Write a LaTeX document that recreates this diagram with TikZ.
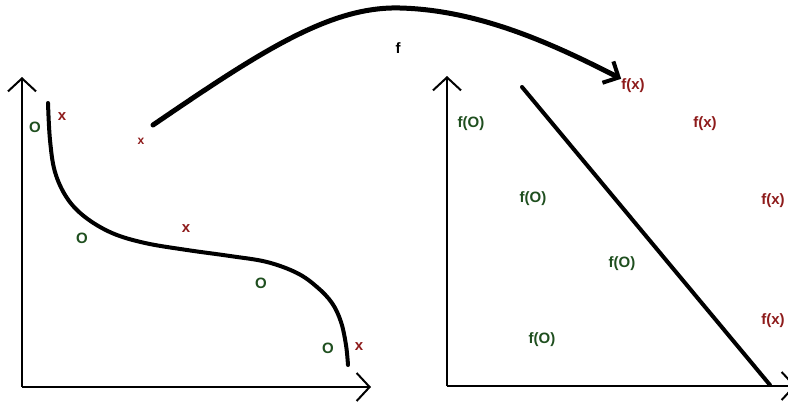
\documentclass[tikz,border=0pt]{standalone}
\usepackage{fontspec}
\setmainfont{Liberation Sans}
\usetikzlibrary{arrows.meta}
\definecolor{dred}{HTML}{8E1B1B}
\definecolor{dgreen}{HTML}{1F4F1F}
\tikzset{
  axis/.style={line width=2.6pt, -{Straight Barb[length=13pt,width=28pt,line width=2pt]}},
  thick curve/.style={line width=4pt, line cap=round},
  gl/.style={text=dgreen, font=\fontsize{15}{15}\selectfont\bfseries, inner sep=0pt},
  rl/.style={text=dred, font=\fontsize{15}{15}\selectfont\bfseries, inner sep=0pt},
  fl/.style={text=black, font=\fontsize{15}{15}\selectfont\bfseries, inner sep=0pt}
}
\begin{document}
\begin{tikzpicture}[x=1pt,y=-1pt]
\useasboundingbox[fill=white] (0,0) rectangle (788,405);
% left axes
\coordinate (lo) at (22,387);
\coordinate (ly) at (22,77);
\coordinate (lx) at (371,387);
\draw[axis] (lo) -- (ly);
\draw[axis] (lo) -- (lx);
% curve
\draw[thick curve] plot[smooth, tension=0.6] coordinates {(48,103) (50,140) (55,172) (67,198) (85,217) (112,233) (145,243) (187,250) (230,256) (267,262) (297,273) (317,287) (332,303) (341,322) (346,345) (348,365)};
% left labels
\node[gl] (o1) at (35,127) {O};
\node[rl] (x1) at (62,117) {x};
\node[rl] (x0) at (141,141) {\fontsize{12}{12}\selectfont x};
\node[gl] (o2) at (82,238) {O};
\node[rl] (x2) at (186,229) {x};
\node[gl] (o3) at (261,283) {O};
\node[gl] (o4) at (328,348) {O};
\node[rl] (x3) at (359,347) {x};
% right axes
\coordinate (ro) at (447,386);
\coordinate (ry) at (447,76);
\coordinate (rx) at (796,386);
\draw[axis] (ro) -- (ry);
\draw[axis] (ro) -- (rx);
% diagonal line
\coordinate (d1) at (522,87);
\coordinate (d2) at (770,385);
\draw[thick curve] (d1) -- (d2);
% right labels
\node[gl] (f1) at (471,124) {f(O)};
\node[gl] (f2) at (533,199) {f(O)};
\node[gl] (f3) at (622,264) {f(O)};
\node[gl] (f4) at (542,340) {f(O)};
\node[rl] (g1) at (633,86) {f(x)};
\node[rl] (g2) at (705,124) {f(x)};
\node[rl] (g3) at (773,201) {f(x)};
\node[rl] (g4) at (773,321) {f(x)};
% big mapping arrow
\coordinate (as) at (153,125);
\node[fl] (fn) at (398,48) {f};
\draw[line width=5pt, line cap=round, -{Straight Barb[length=12pt,width=24pt,line width=4pt]}]
  (as) .. controls (260,52) and (330,6) .. (400,8)
  .. controls (480,10) and (555,45) .. (g1.north west);
\end{tikzpicture}
\end{document}
